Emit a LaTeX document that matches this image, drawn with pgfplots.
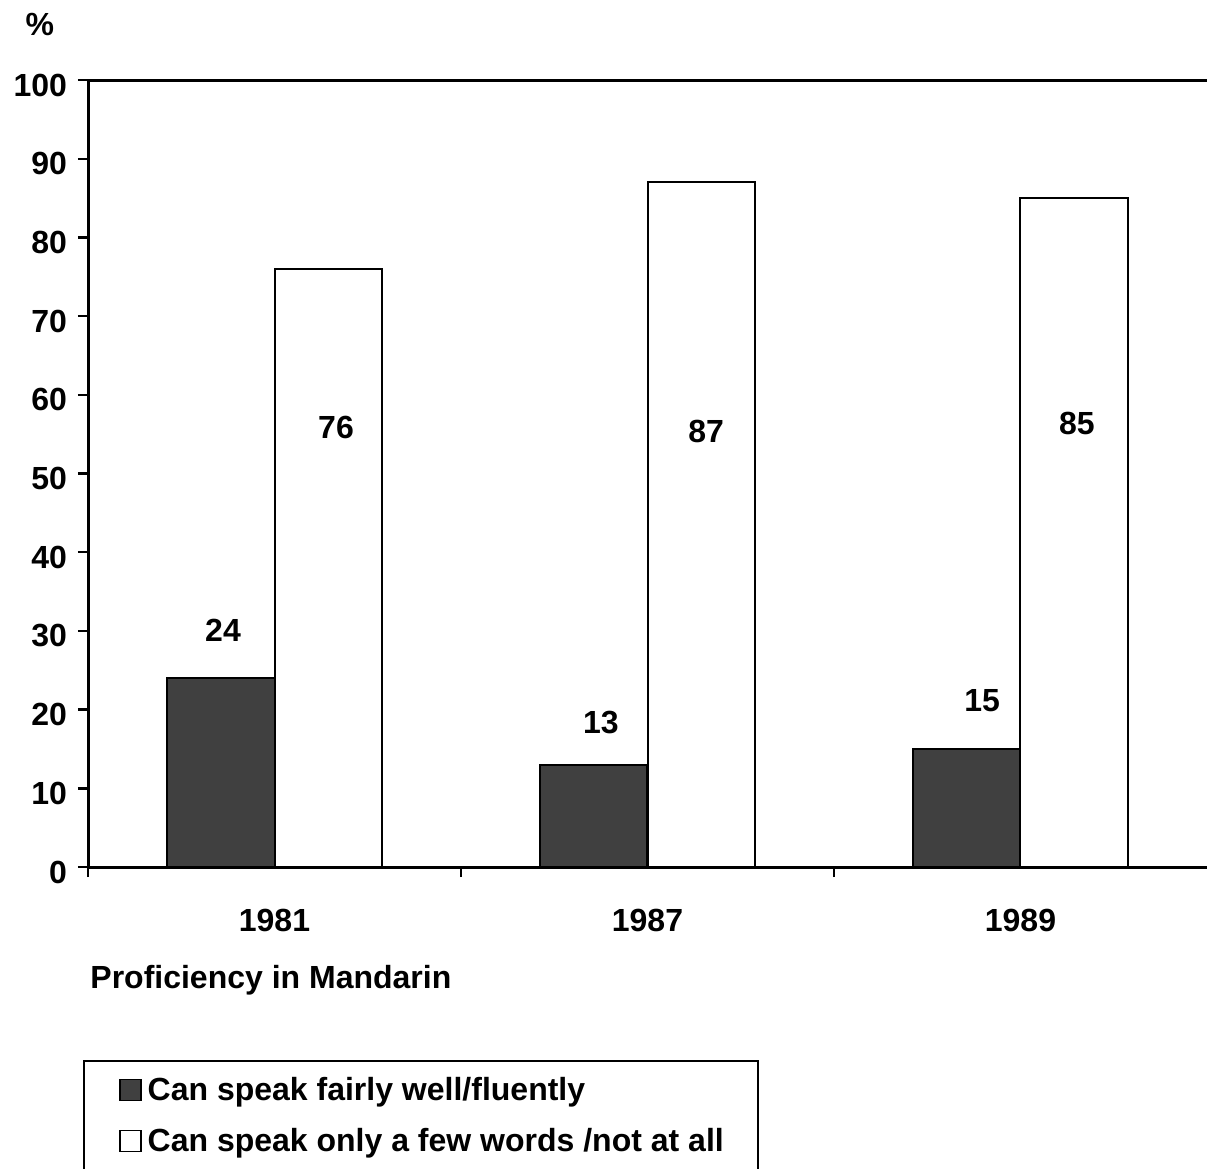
\documentclass[border=0pt]{standalone}
\usepackage{pgfplots}
\pgfplotsset{compat=1.18}
\usepackage{fontspec}
\setmainfont{Liberation Sans}
\definecolor{darkbar}{HTML}{404040}
\begin{document}
\begin{tikzpicture}
\begin{axis}[
  scale only axis,
  width=559.5pt, height=393.5pt,
  ybar=0pt, bar width=53.5pt,
  xmin=-0.5, xmax=2.5, ymin=0, ymax=100,
  enlarge x limits=false,
  axis lines*=left,
  axis line style={line width=1.5pt},
  clip=false,
  font=\bfseries\fontsize{16}{19}\selectfont,
  /pgf/number format/assume math mode=true,
  ytick={0,10,...,100},
  tick align=outside,
  major tick length=5pt,
  tick style={line width=1.2pt, black},
  xtick={-0.5,0.5,1.5},
  xticklabels={},
  extra x ticks={0,1,2},
  extra x tick labels={1981,1987,1989},
  extra x tick style={major tick length=0pt, xticklabel style={yshift=-17.5pt}},
  yticklabel style={xshift=-2pt, yshift=-2.5pt},
  legend style={at={(-0.00447,-0.2452)}, anchor=north west,
    draw=black, line width=1pt, inner xsep=14pt, inner ysep=6pt,
    row sep=8.5pt, font=\bfseries\fontsize{16}{19}\selectfont,
    nodes={inner xsep=3pt}},
  legend cell align=left,
  legend image code/.code={\path (0pt,0pt); \draw[#1, line width=0.7pt] (3.5pt,-5.25pt) rectangle (14pt,5.25pt);},
]
\addplot[draw=black, fill=darkbar, line width=1pt] coordinates {(0,24) (1,13) (2,15)};
\addplot[draw=black, fill=white, line width=1pt] coordinates {(0,76) (1,87) (2,85)};
\legend{Can speak fairly well/fluently, Can speak only a few words /not at all}
\draw[line width=1.5pt] (rel axis cs:0,1) -- (rel axis cs:1,1);
\node at (axis cs:-0.138,30.1) {24};
\node at (axis cs:0.875,18.4) {13};
\node at (axis cs:1.897,21.2) {15};
\node at (axis cs:0.165,55.9) {76};
\node at (axis cs:1.157,55.3) {87};
\node at (axis cs:2.151,56.4) {85};
\node at (axis cs:-0.629,107.0) {\%};
\node[anchor=west, inner sep=0pt] at (axis cs:-0.4946,-14.36) {Proficiency in Mandarin};
\end{axis}
\pgfresetboundingbox
\path[use as bounding box] (-44pt,-151pt) rectangle (559.5pt,433.5pt);
\end{tikzpicture}
\end{document}
